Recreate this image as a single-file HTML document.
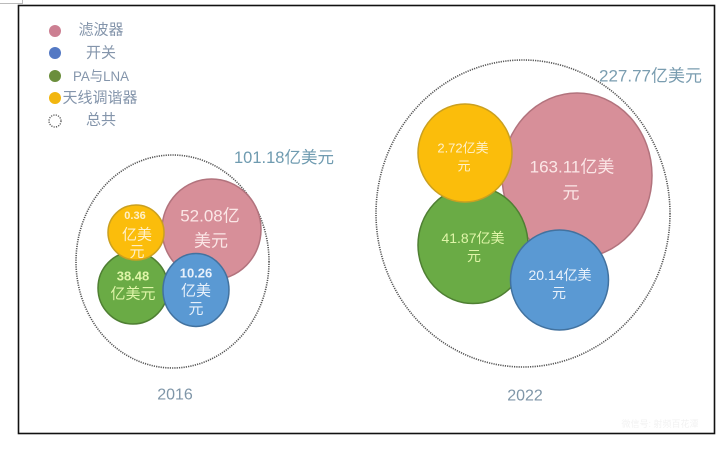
<!DOCTYPE html>
<html><head><meta charset="utf-8"><style>
html,body{margin:0;padding:0;background:#fff;}
svg{display:block;}
text{font-family:"Liberation Sans","Noto Sans CJK SC",sans-serif;}
</style></head><body>
<svg width="718" height="449" viewBox="0 0 718 449" xmlns="http://www.w3.org/2000/svg">
<rect width="718" height="449" fill="#fff"/>
<path d="M0 3.5H22.5V0" fill="none" stroke="#bbb" stroke-width="1"/>
<rect x="18.5" y="5.5" width="696" height="428" fill="none" stroke="#111" stroke-width="1.6"/>

<!-- legend -->
<circle cx="55" cy="31" r="6" fill="#cc7f92"/>
<circle cx="55" cy="53" r="6" fill="#5479c4"/>
<circle cx="55" cy="76" r="6" fill="#6b8e3c"/>
<circle cx="55" cy="98" r="6" fill="#f2b60f"/>
<circle cx="55" cy="121" r="6" fill="none" stroke="#555" stroke-width="1.3" stroke-dasharray="1.2 1.2"/>
<g fill="#8495ab" font-size="15" text-anchor="middle" dominant-baseline="central">
<text x="101" y="30">滤波器</text>
<text x="101" y="53">开关</text>
<text x="101" y="76" font-size="14" textLength="56" lengthAdjust="spacingAndGlyphs">PA与LNA</text>
<text x="100" y="98">天线调谐器</text>
<text x="101" y="120">总共</text>
</g>

<!-- 2016 -->
<ellipse cx="172.5" cy="261.5" rx="96.5" ry="106.5" fill="none" stroke="#555" stroke-width="1.6" stroke-dasharray="1.2 1.1"/>
<ellipse cx="211.5" cy="229.5" rx="49.5" ry="50.5" fill="#d78f99" stroke="#b2737d" stroke-width="1.5"/>
<ellipse cx="133" cy="288" rx="35" ry="36" fill="#6aab45" stroke="#4f7f33" stroke-width="1.5"/>
<ellipse cx="136" cy="232.5" rx="28" ry="27.5" fill="#fbbd0b" stroke="#caa020" stroke-width="1.5"/>
<ellipse cx="196" cy="290" rx="33" ry="36.5" fill="#5a99d3" stroke="#42729f" stroke-width="1.5"/>
<g text-anchor="middle" dominant-baseline="central" font-weight="bold">
<text x="210" y="216" font-size="17" fill="#fbe6e6" font-weight="normal">52.08亿</text>
<text x="211" y="241" font-size="17" fill="#fbe6e6" font-weight="normal">美元</text>
<text x="135" y="216" font-size="11" fill="#fff0c8">0.36</text>
<text x="137" y="235" font-size="15" fill="#fff0c8" font-weight="normal">亿美</text>
<text x="137" y="252" font-size="15" fill="#fff0c8" font-weight="normal">元</text>
<text x="133" y="276" font-size="13" fill="#dff5a8">38.48</text>
<text x="133" y="294" font-size="15" fill="#dff5a8" font-weight="normal">亿美元</text>
<text x="196" y="273" font-size="13" fill="#e8f1fb">10.26</text>
<text x="196" y="291" font-size="15" fill="#e8f1fb" font-weight="normal">亿美</text>
<text x="196" y="309" font-size="15" fill="#e8f1fb" font-weight="normal">元</text>
</g>
<text x="175" y="395" font-size="16" fill="#7f96a8" text-anchor="middle" dominant-baseline="central">2016</text>
<text x="234" y="158" font-size="16.5" fill="#6f9bb0" dominant-baseline="central">101.18亿美元</text>

<!-- 2022 -->
<ellipse cx="523" cy="213.5" rx="147" ry="153.5" fill="none" stroke="#555" stroke-width="1.6" stroke-dasharray="1.2 1.1"/>
<ellipse cx="577" cy="175.5" rx="75" ry="82.5" fill="#d78f99" stroke="#b2737d" stroke-width="1.5"/>
<ellipse cx="473" cy="245" rx="55" ry="58.5" fill="#6aab45" stroke="#4f7f33" stroke-width="1.5"/>
<ellipse cx="465" cy="153" rx="47" ry="49" fill="#fbbd0b" stroke="#caa020" stroke-width="1.5"/>
<ellipse cx="559.5" cy="280" rx="49" ry="50" fill="#5a99d3" stroke="#42729f" stroke-width="1.5"/>
<g text-anchor="middle" dominant-baseline="central">
<text x="572" y="167" font-size="17" fill="#fbe6e6">163.11亿美</text>
<text x="571" y="193" font-size="17" fill="#fbe6e6">元</text>
<text x="463" y="148" font-size="13" fill="#fff0c8">2.72亿美</text>
<text x="464" y="166" font-size="13" fill="#fff0c8">元</text>
<text x="473" y="238" font-size="14" fill="#dff5a8">41.87亿美</text>
<text x="474" y="256" font-size="14" fill="#dff5a8">元</text>
<text x="560" y="275" font-size="14" fill="#e8f1fb">20.14亿美</text>
<text x="559" y="293" font-size="14" fill="#e8f1fb">元</text>
<text x="525" y="396" font-size="16" fill="#7f96a8">2022</text>
</g>
<text x="599" y="76" font-size="17" fill="#7a9db0" dominant-baseline="central">227.77亿美元</text>

<text x="660" y="427" font-size="9" fill="#f2f2f2" text-anchor="middle">微信号: 射频百花潭</text>
</svg>
</body></html>
